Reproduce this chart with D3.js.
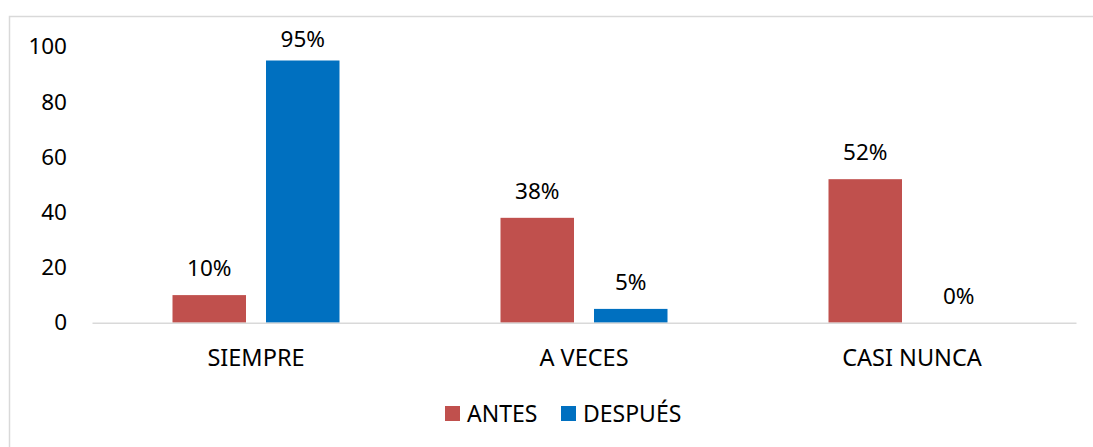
<!DOCTYPE html>
<html>
<head>
<meta charset="utf-8">
<script src="https://cdn.jsdelivr.net/npm/d3@7"></script>
<style>
  body { margin: 0; background: #fff; }
  svg text { font-family: "Noto Sans", "Open Sans", sans-serif; fill: #000; }
</style>
</head>
<body>
<div class="bar_chart"></div>
<script>
var categories = ["SIEMPRE", "A VECES", "CASI NUNCA"];
var series = ["ANTES", "DESPUÉS"];
var antes = [10, 38, 52];
var despues = [95, 5, 0];
var yTicks = [0, 20, 40, 60, 80, 100];

var colors = { "ANTES": "#C0504D", "DESPUÉS": "#0070C0" };

var W = 1093, H = 447;
var svg = d3.select(".bar_chart")
  .append("svg")
  .attr("width", W)
  .attr("height", H);

// chart frame
svg.append("rect")
  .attr("x", 9.5).attr("y", 16.5)
  .attr("width", 1100).attr("height", 500)
  .attr("fill", "#fff")
  .attr("stroke", "#d9d9d9")
  .attr("stroke-width", 1.5);

var data = categories.map(function (c, i) {
  return { cat: c, values: [ { key: "ANTES", v: antes[i] }, { key: "DESPUÉS", v: despues[i] } ] };
});

var x0 = d3.scaleBand().domain(categories).range([92, 1076]);
var x1 = d3.scaleBand().domain(series).range([80.5, 247.5]).paddingInner(0.214);
var y = d3.scaleLinear().domain([0, 100]).range([322.7, 46.7]);

// y axis labels
var yAxis = svg.append("g")
  .attr("class", "y axis")
  .attr("transform", "translate(67,0)")
  .call(d3.axisLeft(y).tickValues(yTicks).tickSize(0).tickPadding(0));
yAxis.select(".domain").remove();
yAxis.selectAll("text").attr("font-size", "22.5px").style("font-family", "'Noto Sans', sans-serif");

var groups = svg.selectAll(".grp")
  .data(data)
  .enter()
  .append("g")
  .attr("class", "grp")
  .attr("transform", function (d) { return "translate(" + x0(d.cat) + ",0)"; });

groups.selectAll("rect")
  .data(function (d) { return d.values; })
  .enter()
  .append("rect")
  .attr("x", function (d) { return x1(d.key); })
  .attr("y", function (d) { return y(d.v); })
  .attr("width", x1.bandwidth())
  .attr("height", function (d) { return y(0) - y(d.v); })
  .attr("fill", function (d) { return colors[d.key]; });

// data labels (kept inside the plot area at the top)
groups.selectAll(".lbl")
  .data(function (d) { return d.values; })
  .enter()
  .append("text")
  .attr("class", "lbl")
  .attr("x", function (d) { return x1(d.key) + x1.bandwidth() / 2; })
  .attr("y", function (d) { return Math.max(y(d.v) - 19, 46.5); })
  .attr("text-anchor", "middle")
  .attr("font-size", "22.5px")
  .text(function (d) { return d.v + "%"; });

// x axis
var xAxis = svg.append("g")
  .attr("class", "x axis")
  .attr("transform", "translate(0," + y(0) + ")")
  .call(d3.axisBottom(x0).tickSize(0).tickPadding(0));
xAxis.select(".domain").attr("stroke", "#d9d9d9").attr("stroke-width", 1.5);
xAxis.selectAll("text")
  .attr("dy", 0)
  .attr("y", 43.5)
  .attr("font-size", "23.5px")
  .style("font-family", "'Noto Sans', sans-serif");

// legend
var legend = svg.append("g").attr("class", "legend");
var lx = [445, 561];
series.forEach(function (s, i) {
  legend.append("rect")
    .attr("x", lx[i]).attr("y", 406)
    .attr("width", 15).attr("height", 15)
    .attr("fill", colors[s]);
  legend.append("text")
    .attr("x", lx[i] + 22).attr("y", 421.5)
    .attr("font-size", "23px")
    .text(s);
});
</script>
</body>
</html>
